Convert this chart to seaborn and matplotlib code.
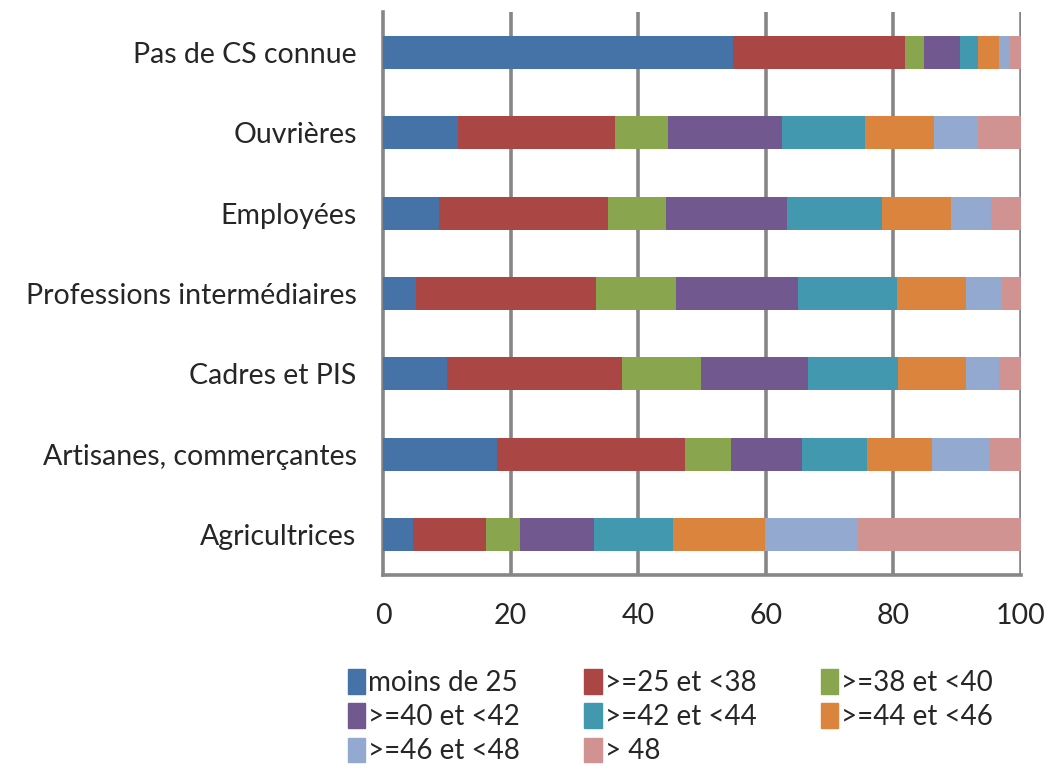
import numpy as np
import pandas as pd
import matplotlib
matplotlib.use("Agg")
import matplotlib.pyplot as plt
import matplotlib.patches as mpatches
import seaborn as sns

# === Data (% par tranche) ===
categories = ["Pas de CS connue", "Ouvrières", "Employées",
              "Professions intermédiaires", "Cadres et PIS",
              "Artisanes, commerçantes", "Agricultrices"]
series = ["moins de 25", ">=25 et <38", ">=38 et <40", ">=40 et <42",
          ">=42 et <44", ">=44 et <46", ">=46 et <48", "> 48"]

moins_25 = [54.8, 11.7, 8.7, 5.1, 10.0, 17.9, 4.7]
de25_38 = [27.0, 24.6, 26.6, 28.3, 27.4, 29.4, 11.5]
de38_40 = [3.0, 8.4, 9.0, 12.5, 12.5, 7.3, 5.3]
de40_42 = [5.6, 17.9, 19.1, 19.1, 16.7, 11.0, 11.5]
de42_44 = [2.9, 12.9, 14.8, 15.5, 14.2, 10.2, 12.5]
de44_46 = [3.3, 10.9, 10.8, 10.9, 10.6, 10.3, 14.3]
de46_48 = [1.6, 6.9, 6.3, 5.6, 5.2, 8.9, 14.5]
plus_48 = [1.8, 6.7, 4.7, 3.0, 3.4, 5.0, 25.7]

colors = ["#4572A7", "#AA4643", "#89A54E", "#71588F",
          "#4198AF", "#DB843D", "#93A9CF", "#D19392"]

values = [moins_25, de25_38, de38_40, de40_42, de42_44, de44_46, de46_48, plus_48]

# long table with cumulative ends for stacking
rows = []
for s, vals in zip(series, values):
    for c, v in zip(categories, vals):
        rows.append({"cat": c, "serie": s, "val": v})
df = pd.DataFrame(rows)
df["cat"] = pd.Categorical(df["cat"], categories=categories, ordered=True)
df["serie"] = pd.Categorical(df["serie"], categories=series, ordered=True)
df = df.sort_values(["cat", "serie"])
df["cum"] = df.groupby("cat", observed=True)["val"].cumsum()

sns.set_style("white")
plt.rcParams["font.family"] = ["Lato", "DejaVu Sans"]
grey = "#868686"
fs = 20.5

fig = plt.figure(figsize=(10.48, 7.67), dpi=100)
ax = fig.add_axes([0.3655, 0.2503, 0.6087, 0.7341])

# draw from the longest cumulative to the shortest so segments stack
for s, col in reversed(list(zip(series, colors))):
    sub = df[df["serie"] == s]
    sns.barplot(data=sub, x="cum", y="cat", order=categories, color=col,
                width=0.41, saturation=1, edgecolor="none", ax=ax, zorder=3)

ax.set_xlim(0, 100)
ax.set_ylim(6.5, -0.5)
ax.set_xticks(np.arange(0, 101, 20))
ax.set_xlabel("")
ax.set_ylabel("")
for x in np.arange(20, 101, 20):
    ax.axvline(x, color=grey, lw=2.6, zorder=1)

for side in ["top", "right"]:
    ax.spines[side].set_visible(False)
for side in ["left", "bottom"]:
    ax.spines[side].set_color(grey)
    ax.spines[side].set_linewidth(2.6)

ax.set_yticks(np.arange(-0.5, 7, 1), minor=True)
ax.tick_params(axis="y", which="major", length=0, pad=19, labelsize=fs)
ax.tick_params(axis="y", which="minor", length=9, width=2.6, color=grey)
ax.tick_params(axis="x", which="major", length=7, width=2.6, color=grey,
               pad=13, labelsize=fs)

# legend, row-major order as in the original
handles = [mpatches.Patch(color=c, label=s) for s, c in zip(series, colors)]
order = [0, 3, 6, 1, 4, 7, 2, 5]
fig.legend([handles[i] for i in order], [series[i] for i in order],
           ncol=3, frameon=False, loc="upper left",
           bbox_to_anchor=(0.321, 0.142), fontsize=20,
           handlelength=0.63, handleheight=0.97, handletextpad=0.12,
           columnspacing=2.3, labelspacing=0.27, borderaxespad=0)

fig.savefig("out.png", dpi=100)
